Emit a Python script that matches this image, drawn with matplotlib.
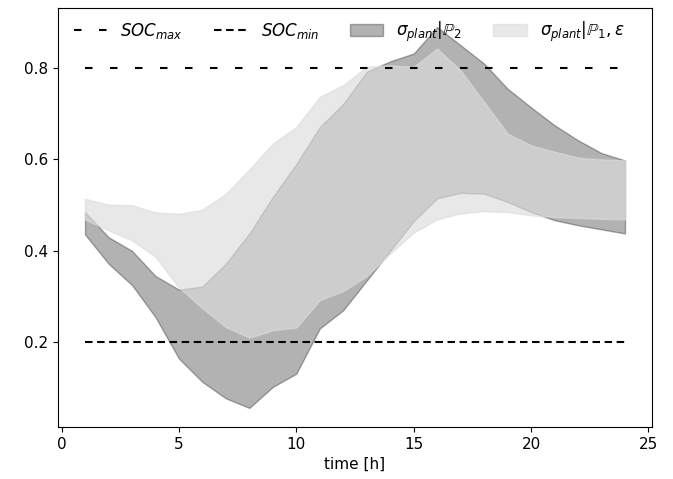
import numpy as np
from matplotlib import pyplot as plt

plt.rcParams['font.size'] = 11
plt.rcParams['mathtext.fontset'] = 'dejavusans'

hours = [1, 2, 3, 4, 5, 6, 7, 8, 9, 10, 11, 12,
         13, 14, 15, 16, 17, 18, 19, 20, 21, 22, 23, 24]

# sigma_plant | P2 band
p2_upper = [0.485, 0.430, 0.400, 0.345, 0.315, 0.322, 0.372, 0.438, 0.518, 0.590, 0.671, 0.722,
            0.792, 0.815, 0.832, 0.890, 0.850, 0.810, 0.755, 0.714, 0.675, 0.642, 0.614, 0.598]
p2_lower = [0.436, 0.372, 0.325, 0.255, 0.164, 0.113, 0.077, 0.056, 0.102, 0.131, 0.230, 0.270,
            0.335, 0.400, 0.465, 0.515, 0.527, 0.525, 0.507, 0.485, 0.467, 0.456, 0.447, 0.438]

# sigma_plant | P1, eps band
p1_upper = [0.514, 0.501, 0.500, 0.484, 0.481, 0.490, 0.525, 0.578, 0.635, 0.671, 0.737, 0.763,
            0.803, 0.806, 0.803, 0.843, 0.795, 0.726, 0.657, 0.631, 0.617, 0.604, 0.600, 0.598]
p1_lower = [0.469, 0.445, 0.423, 0.387, 0.320, 0.274, 0.233, 0.210, 0.226, 0.232, 0.292, 0.312,
            0.345, 0.394, 0.440, 0.469, 0.482, 0.487, 0.485, 0.478, 0.474, 0.472, 0.470, 0.469]

soc_max = 0.8
soc_min = 0.2

fig = plt.figure(figsize=(6.73, 4.79), dpi=100)
ax = fig.add_axes([0.0862, 0.1086, 0.8826, 0.8747])

h = np.array(hours)
ax.plot(h, np.full(len(h), soc_max), color='k', lw=1.5, linestyle=(0, (3.6, 8.4)), label=r'$SOC_{max}$')
ax.plot(h, np.full(len(h), soc_min), color='k', lw=1.5, linestyle=(0, (3.6, 2.2)), label=r'$SOC_{min}$')
ax.fill_between(h, p2_lower, p2_upper, color='k', alpha=0.3, label=r'$\sigma_{plant}|\mathbb{P}_2$')
ax.fill_between(h, p1_lower, p1_upper, color='#dcdcdc', alpha=0.65,
                label=r'$\sigma_{plant}|\mathbb{P}_1, \varepsilon$')

ax.set_xlabel('time [h]')
ax.set_xticks([0, 5, 10, 15, 20, 25])
ax.set_yticks([0.2, 0.4, 0.6, 0.8])
ax.legend(loc='upper center', bbox_to_anchor=(0.49, 1.0), ncol=4, frameon=False,
          fontsize=12, columnspacing=1.85, borderaxespad=0.3)

fig.savefig('out.png', dpi=100)
